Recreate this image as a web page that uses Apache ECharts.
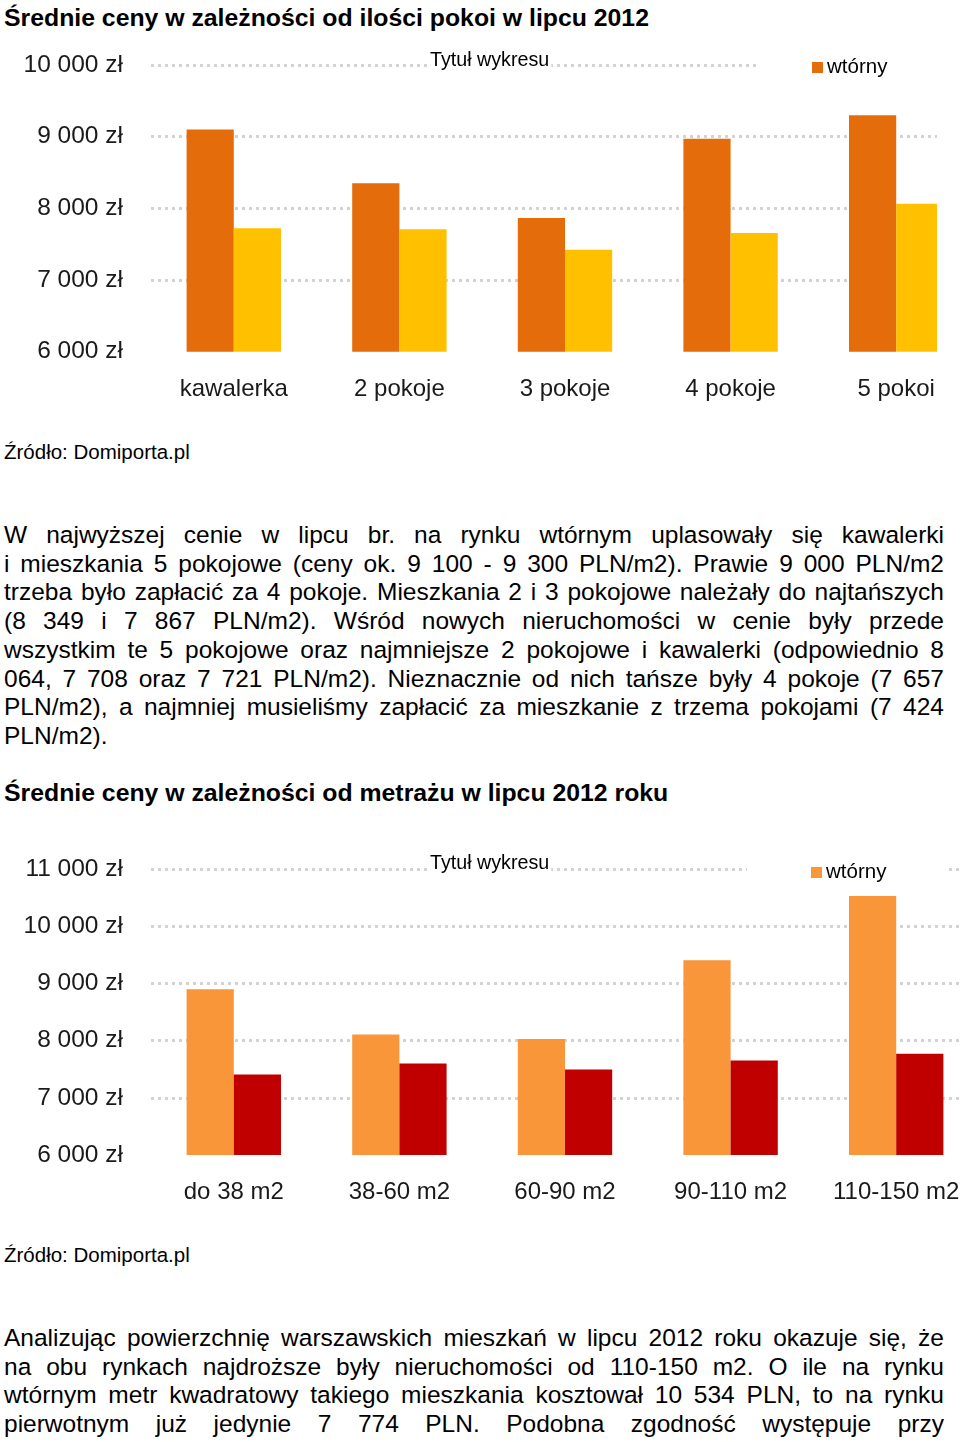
<!DOCTYPE html>
<html>
<head>
<meta charset="utf-8">
<script src="https://cdn.jsdelivr.net/npm/echarts@6/dist/echarts.min.js"></script>
<style>
html,body{margin:0;padding:0;background:#fff;}
body{width:960px;height:1442px;position:relative;overflow:hidden;font-family:"Liberation Sans",Arial,sans-serif;color:#000;}
.h{position:absolute;left:4px;font-weight:bold;font-size:24.8px;line-height:30px;white-space:nowrap;}
.src{position:absolute;left:4px;font-size:20.5px;line-height:24px;white-space:nowrap;}
.para{position:absolute;left:4px;width:940px;font-size:24.5px;line-height:28.7px;}
.para div{text-align:justify;text-align-last:justify;}
.para div.last{text-align:left;text-align-last:left;}
.chart{position:absolute;left:0;}
</style>
</head>
<body>
<div class="h" style="top:3px">Średnie ceny w zależności od ilości pokoi w lipcu 2012</div>
<div id="c1" class="chart" style="top:40px;width:937px;height:380px"></div>
<div class="src" style="top:440px">Źródło: Domiporta.pl</div>
<div class="para" style="top:521px">
<div>W najwyższej cenie w lipcu br. na rynku wtórnym uplasowały się kawalerki</div>
<div>i mieszkania 5 pokojowe (ceny ok. 9 100 - 9 300 PLN/m2). Prawie 9 000 PLN/m2</div>
<div>trzeba było zapłacić za 4 pokoje. Mieszkania 2 i 3 pokojowe należały do najtańszych</div>
<div>(8 349 i 7 867 PLN/m2). Wśród nowych nieruchomości w cenie były przede</div>
<div>wszystkim te 5 pokojowe oraz najmniejsze 2 pokojowe i kawalerki (odpowiednio 8</div>
<div>064, 7 708 oraz 7 721 PLN/m2). Nieznacznie od nich tańsze były 4 pokoje (7 657</div>
<div>PLN/m2), a najmniej musieliśmy zapłacić za mieszkanie z trzema pokojami (7 424</div>
<div class="last">PLN/m2).</div>
</div>
<div class="h" style="top:778px">Średnie ceny w zależności od metrażu w lipcu 2012 roku</div>
<div id="c2" class="chart" style="top:840px;width:960px;height:380px"></div>
<div class="src" style="top:1243px">Źródło: Domiporta.pl</div>
<div class="para" style="top:1324px">
<div>Analizując powierzchnię warszawskich mieszkań w lipcu 2012 roku okazuje się, że</div>
<div>na obu rynkach najdroższe były nieruchomości od 110-150 m2. O ile na rynku</div>
<div>wtórnym metr kwadratowy takiego mieszkania kosztował 10 534 PLN, to na rynku</div>
<div>pierwotnym już jedynie 7 774 PLN. Podobna zgodność występuje przy</div>
</div>
<script>
// ---- data: chart 1 (rooms) ----
var rooms = ['kawalerka', '2 pokoje', '3 pokoje', '4 pokoje', '5 pokoi'];
var roomsSecondary = [9100, 8349, 7867, 8970, 9300];
var roomsPrimary = [7721, 7708, 7424, 7657, 8064];
var roomsTicks = ['6 000 zł', '7 000 zł', '8 000 zł', '9 000 zł', '10 000 zł'];

// ---- data: chart 2 (area) ----
var areas = ['do 38 m2', '38-60 m2', '60-90 m2', '90-110 m2', '110-150 m2'];
var areasSecondary = [8900, 8110, 8030, 9410, 10534];
var areasPrimary = [7411, 7603, 7498, 7656, 7774];
var areasTicks = ['6 000 zł', '7 000 zł', '8 000 zł', '9 000 zł', '10 000 zł', '11 000 zł'];

var seriesNames = ['wtórny', 'pierwotny'];
var chartTitle = 'Tytuł wykresu';

var FONT = '"Liberation Sans", Arial, sans-serif';

function makeOption(cfg) {
  return {
    animation: false,
    textStyle: { fontFamily: FONT },
    title: {
      text: chartTitle,
      left: 428,
      top: cfg.titleTop,
      padding: [1, 2, 1, 2],
      backgroundColor: '#fff',
      textStyle: { fontSize: 19.7, fontWeight: 'normal', color: '#000', fontFamily: FONT }
    },
    legend: {
      data: [seriesNames[0]],
      left: cfg.legendLeft,
      top: cfg.legendTop,
      padding: [6, 60, 6, cfg.legendPadLeft],
      backgroundColor: '#fff',
      icon: 'rect',
      itemWidth: 11,
      itemHeight: 11,
      selectedMode: false,
      textStyle: { fontSize: 20.5, color: '#000', fontFamily: FONT, padding: [0, 0, 0, -1] }
    },
    grid: {
      left: 151,
      top: cfg.gridTop,
      width: 828,
      height: cfg.gridHeight,
      containLabel: false,
      outerBoundsMode: 'none'
    },
    xAxis: {
      type: 'category',
      data: cfg.cats,
      axisLine: { show: false },
      axisTick: { show: false },
      axisLabel: { fontSize: 24, color: '#1a1a1a', margin: cfg.xMargin, fontFamily: FONT, interval: 0 }
    },
    yAxis: {
      type: 'value',
      min: 6000,
      max: cfg.max,
      interval: 1000,
      axisLine: { show: false },
      axisTick: { show: false },
      axisLabel: {
        fontSize: 24.5, color: '#1a1a1a', margin: 28, fontFamily: FONT,
        formatter: function (v) { return cfg.ticks[Math.round((v - 6000) / 1000)]; }
      },
      splitLine: {
        show: true,
        showMinLine: false,
        lineStyle: { color: '#d3d3d3', width: 3, type: [3, 4] }
      }
    },
    series: [
      {
        name: seriesNames[0], type: 'bar', data: cfg.s1,
        barGap: '0%', barCategoryGap: '43%',
        itemStyle: { color: cfg.colors[0] }
      },
      {
        name: seriesNames[1], type: 'bar', data: cfg.s2,
        barGap: '0%', barCategoryGap: '43%',
        itemStyle: { color: cfg.colors[1] }
      }
    ]
  };
}

var c1 = echarts.init(document.getElementById('c1'), null, { renderer: 'canvas' });
c1.setOption(makeOption({
  cats: rooms, s1: roomsSecondary, s2: roomsPrimary, ticks: roomsTicks,
  max: 10000, gridTop: 25, gridHeight: 286.7, xMargin: 26,
  titleTop: 10, legendLeft: 758, legendTop: 11, legendPadLeft: 54,
  colors: ['#E46C0A', '#FFC000']
}));

var c2 = echarts.init(document.getElementById('c2'), null, { renderer: 'canvas' });
c2.setOption(makeOption({
  cats: areas, s1: areasSecondary, s2: areasPrimary, ticks: areasTicks,
  max: 11000, gridTop: 29.3, gridHeight: 285.7, xMargin: 25,
  titleTop: 13, legendLeft: 747, legendTop: 16, legendPadLeft: 64,
  colors: ['#F9963A', '#C00000']
}));
</script>
</body>
</html>
